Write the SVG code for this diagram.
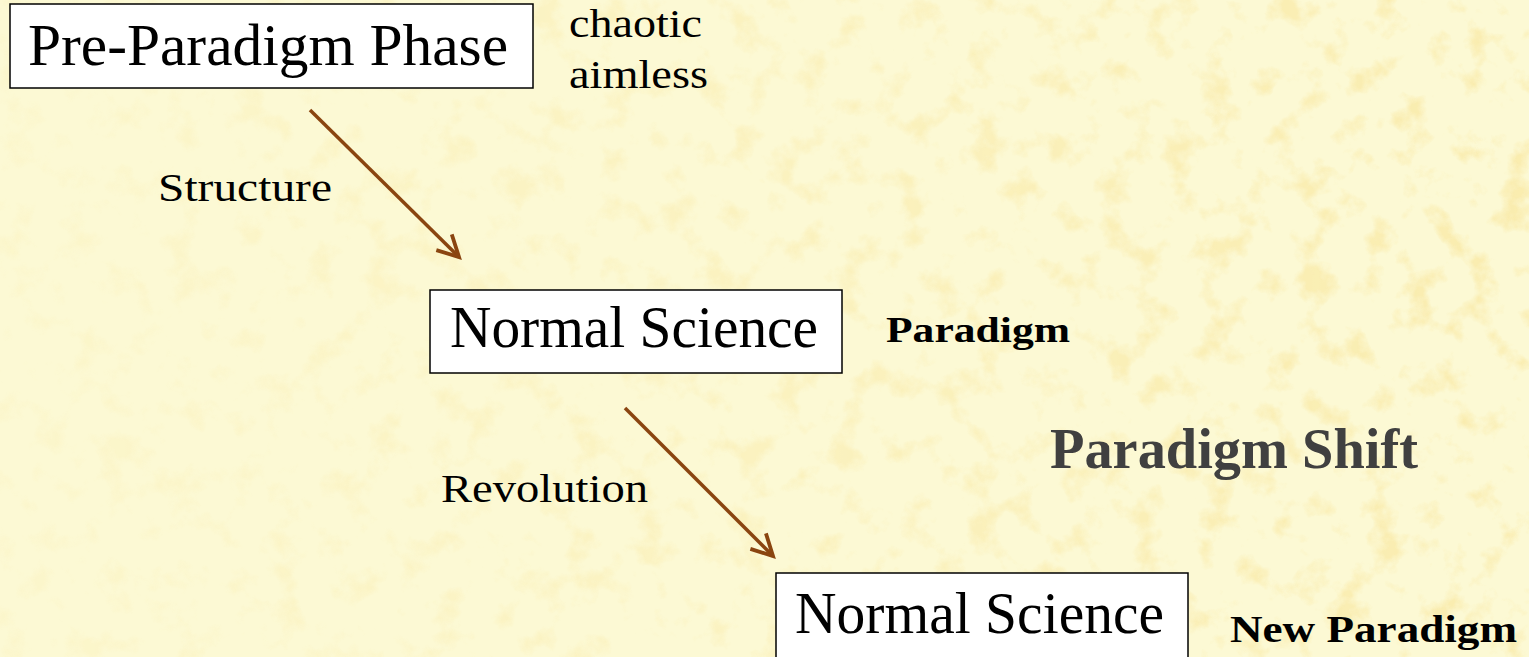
<svg xmlns="http://www.w3.org/2000/svg" width="1529" height="657" viewBox="0 0 1529 657">
  <defs>
    <style>
      .box { fill: #ffffff; stroke: #000000; stroke-width: 1.5; }
      .node-text { font-family: "Liberation Serif", "DejaVu Serif", serif; font-size: 59px; fill: #000000; }
      .label { font-family: "Liberation Serif", "DejaVu Serif", serif; font-size: 39px; fill: #000000; }
      .note { font-family: "Liberation Serif", "DejaVu Serif", serif; font-weight: bold; fill: #000000; }
      .conn { stroke: #8a4510; stroke-width: 3.5; fill: none; }
    </style>
    <marker id="chev" markerUnits="userSpaceOnUse" markerWidth="40" markerHeight="40" viewBox="-30 -20 40 40" refX="0" refY="0" orient="auto">
      <path d="M -21 -11 L 0 0 L -21 11" fill="none" stroke="#8a4510" stroke-width="3.8" stroke-linejoin="miter" stroke-linecap="butt"/>
    </marker>
    <filter id="tex" x="0" y="0" width="100%" height="100%">
      <feTurbulence type="fractalNoise" baseFrequency="0.03" numOctaves="4" seed="7" result="n"/>
      <feColorMatrix in="n" type="matrix" values="0 0 0 0 0.94  0 0 0 0 0.78  0 0 0 0 0.32  4 0 0 0 -2.1"/>
    </filter>
    <linearGradient id="fade" x1="0" y1="0" x2="1" y2="0">
      <stop offset="0" stop-color="#fff" stop-opacity="0.2"/>
      <stop offset="0.5" stop-color="#fff" stop-opacity="0.5"/>
      <stop offset="1" stop-color="#fff" stop-opacity="0.9"/>
    </linearGradient>
    <mask id="texmask">
      <rect x="0" y="0" width="1529" height="657" fill="url(#fade)"/>
    </mask>
  </defs>

  <g id="background">
    <rect x="0" y="0" width="1529" height="657" fill="#fcf9d4"/>
    <rect x="0" y="0" width="1529" height="657" filter="url(#tex)" mask="url(#texmask)" opacity="0.7"/>
  </g>

  <g id="connectors">
    <line class="conn" x1="310" y1="110" x2="459" y2="257" marker-end="url(#chev)"/>
    <line class="conn" x1="625" y1="408" x2="773" y2="556" marker-end="url(#chev)"/>
    <text class="label" x="158" y="201" textLength="174" lengthAdjust="spacingAndGlyphs">Structure</text>
    <text class="label" x="441" y="502" textLength="207" lengthAdjust="spacingAndGlyphs">Revolution</text>
  </g>

  <g id="node-pre-paradigm">
    <rect class="box" x="10" y="4" width="523" height="84"/>
    <text class="node-text" x="28" y="65" font-size="60" textLength="480" lengthAdjust="spacingAndGlyphs">Pre-Paradigm Phase</text>
  </g>
  <g id="note-chaotic">
    <text class="label" x="569" y="37" font-size="38" textLength="133" lengthAdjust="spacingAndGlyphs">chaotic</text>
    <text class="label" x="569" y="88" font-size="38" textLength="139" lengthAdjust="spacingAndGlyphs">aimless</text>
  </g>

  <g id="node-normal-science-1">
    <rect class="box" x="430" y="290" width="412" height="83"/>
    <text class="node-text" x="450" y="347" textLength="368" lengthAdjust="spacingAndGlyphs">Normal Science</text>
  </g>
  <g id="note-paradigm">
    <text class="note" x="886" y="342" font-size="35" textLength="184" lengthAdjust="spacingAndGlyphs">Paradigm</text>
  </g>

  <g id="note-paradigm-shift">
    <text class="note" x="1050" y="468" font-size="56" style="fill:#404040" textLength="368" lengthAdjust="spacingAndGlyphs">Paradigm Shift</text>
  </g>

  <g id="node-normal-science-2">
    <rect class="box" x="776" y="573" width="412" height="100"/>
    <text class="node-text" x="795" y="633" textLength="369" lengthAdjust="spacingAndGlyphs">Normal Science</text>
  </g>
  <g id="note-new-paradigm">
    <text class="note" x="1230" y="642" font-size="37" textLength="287" lengthAdjust="spacingAndGlyphs">New Paradigm</text>
  </g>
</svg>
